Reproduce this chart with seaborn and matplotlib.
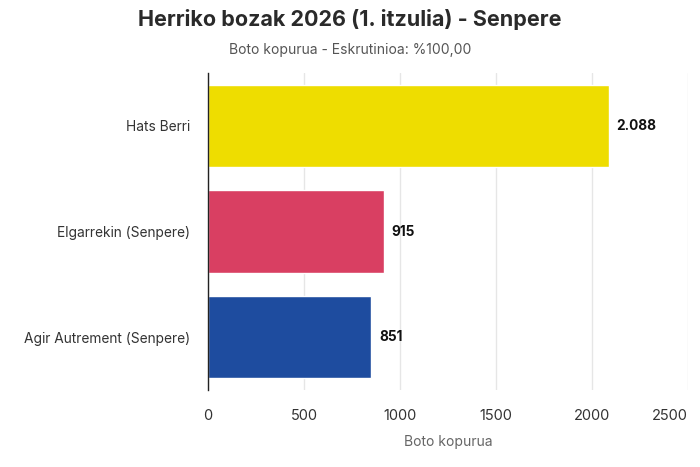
import pandas as pd
import matplotlib.pyplot as plt
import matplotlib.transforms as mtrans
import seaborn as sns

# datuak
alderdiak = ["Hats Berri", "Elgarrekin (Senpere)", "Agir Autrement (Senpere)"]
botoak = [2088, 915, 851]
koloreak = ["#EEDD00", "#D93F62", "#1E4C9F"]
etiketak = ["2.088", "915", "851"]
x_ticks = [0, 500, 1000, 1500, 2000, 2500]

df = pd.DataFrame({"alderdia": alderdiak, "botoak": botoak})

sns.set_theme(style="white")
plt.rcParams["font.family"] = ["Inter", "DejaVu Sans"]

fig = plt.figure(figsize=(7, 4.67), dpi=100)
ax = fig.add_axes([208 / 700, 1 - 390 / 467, (688 - 208) / 700, (390 - 73) / 467])

sns.barplot(data=df, x="botoak", y="alderdia", hue="alderdia",
            palette=koloreak, saturation=1, width=0.78, legend=False, ax=ax)

ax.set_xlim(0, 2500)
ax.set_ylim(2.5, -0.5)
ax.set_xticks(x_ticks)
# azken etiketa eskuz, ertzean ez mozteko
ax.set_xticklabels([str(t) for t in x_ticks[:-1]] + [""])
ax.grid(axis="x", color="#e6e6e6", linewidth=1)
ax.set_axisbelow(True)

for s in ["top", "right", "bottom"]:
    ax.spines[s].set_visible(False)
ax.spines["left"].set_color("#222222")
ax.spines["left"].set_linewidth(1)

ax.tick_params(axis="x", length=0, pad=14, labelsize=10.5, labelcolor="#333333")
ax.tick_params(axis="y", length=0, pad=13, labelsize=9.9, labelcolor="#333333")

trans = ax.get_xaxis_transform() + mtrans.ScaledTranslation(0, -0.26, fig.dpi_scale_trans)
ax.text(x_ticks[-1], 0, str(x_ticks[-1]), transform=trans, ha="right", va="center",
        fontsize=10.5, color="#333333")

ax.set_ylabel("")
ax.set_xlabel("Boto kopurua", fontsize=10, color="#666666", labelpad=8)

for i, (v, t) in enumerate(zip(botoak, etiketak)):
    ax.text(v + 40, i, t, va="center", ha="left", fontsize=9.8,
            fontweight="bold", color="#111111")

fig.text(0.5, 1 - 20 / 467, "Herriko bozak 2026 (1. itzulia) - Senpere",
         ha="center", va="center", fontsize=15.5, fontweight="bold", color="#2a2a2a")
fig.text(0.5, 1 - 50 / 467, "Boto kopurua - Eskrutinioa: %100,00",
         ha="center", va="center", fontsize=10, color="#555555")

fig.savefig("out.png", dpi=100)
